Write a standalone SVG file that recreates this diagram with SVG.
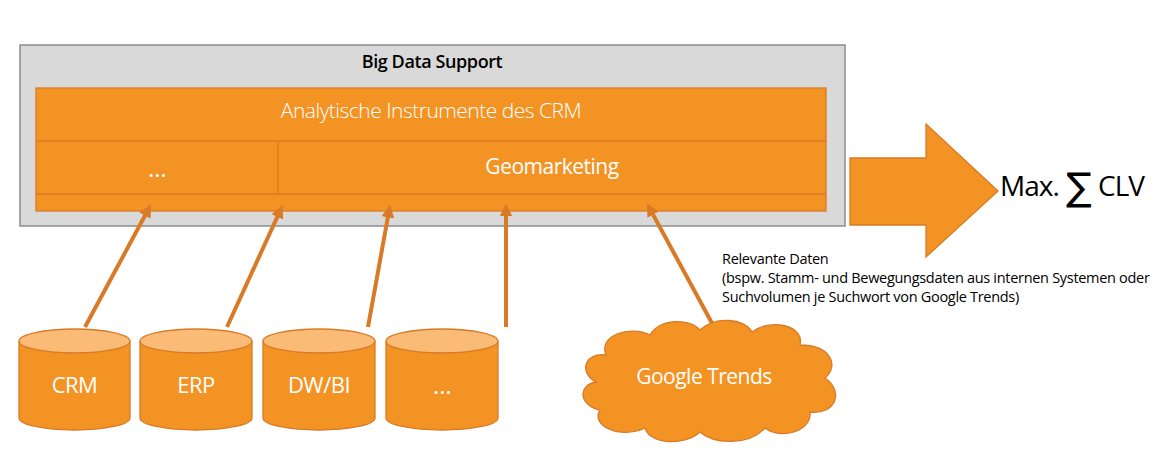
<svg xmlns="http://www.w3.org/2000/svg" width="1174" height="461" viewBox="0 0 1174 461">
<style>
.o{fill:#f39324;stroke:#d97a26;stroke-width:1.3}
.t{fill:#fff;font-family:"Open Sans","Liberation Sans",sans-serif;text-anchor:middle;letter-spacing:-0.5px}
.c{stroke:#d97a26;stroke-width:4;fill:none;marker-end:url(#ah)}
</style>
<defs>
<marker id="ah" viewBox="0 0 10 10" refX="5" refY="5" markerWidth="3.2" markerHeight="3.2" orient="auto"><path d="M0,0L10,5L0,10z" fill="#d97a26"/></marker>
</defs>
<rect width="1174" height="461" fill="#fff"/>
<g id="bigdata">
<rect x="20" y="45" width="825" height="181" fill="#d9d9d9" stroke="#8c8c8c" stroke-width="1.5"/>
<text x="432" y="68" font-family="'Open Sans','Liberation Sans',sans-serif" font-size="18" font-weight="600" text-anchor="middle" fill="#000" letter-spacing="-0.4">Big Data Support</text>
<rect class="o" x="36" y="88" width="790" height="123"/>
<line x1="36" y1="141" x2="826" y2="141" stroke="#d97a26" stroke-width="1.3"/>
<line x1="36" y1="194" x2="826" y2="194" stroke="#d97a26" stroke-width="1.3"/>
<line x1="278" y1="141" x2="278" y2="194" stroke="#d97a26" stroke-width="1.3"/>
<text class="t" x="431" y="118" font-size="21" font-weight="300">Analytische Instrumente des CRM</text>
<text class="t" x="157" y="177" font-size="24">…</text>
<text class="t" x="552" y="174" font-size="21">Geomarketing</text>
</g>
<g id="connectors">
<line class="c" x1="85" y1="327" x2="148" y2="210"/>
<line class="c" x1="227" y1="327" x2="280" y2="211"/>
<line class="c" x1="368" y1="327" x2="389" y2="211"/>
<line class="c" x1="506" y1="327" x2="506" y2="210"/>
<line class="c" x1="713" y1="325" x2="650" y2="209"/>
</g>
<g id="db-crm">
<path class="o" d="M19,341V418A55.5,12 0 0 0 130,418V341"/>
<ellipse cx="74.5" cy="341" rx="55.5" ry="12" fill="#f9bb76" stroke="#d97a26" stroke-width="1.3"/>
<text class="t" x="74.5" y="393" font-size="22">CRM</text>
</g>
<g id="db-erp">
<path class="o" d="M140,341V418A56,12 0 0 0 252,418V341"/>
<ellipse cx="196" cy="341" rx="56" ry="12" fill="#f9bb76" stroke="#d97a26" stroke-width="1.3"/>
<text class="t" x="196" y="393" font-size="22">ERP</text>
</g>
<g id="db-dwbi">
<path class="o" d="M263,341V418A56,12 0 0 0 375,418V341"/>
<ellipse cx="319" cy="341" rx="56" ry="12" fill="#f9bb76" stroke="#d97a26" stroke-width="1.3"/>
<text class="t" x="319" y="393" font-size="22">DW/BI</text>
</g>
<g id="db-more">
<path class="o" d="M386,341V418A56,12 0 0 0 498,418V341"/>
<ellipse cx="442" cy="341" rx="56" ry="12" fill="#f9bb76" stroke="#d97a26" stroke-width="1.3"/>
<text class="t" x="442" y="394" font-size="24">…</text>
</g>
<g id="google">
<path class="o" d="M606,355C598,335 630,325 650,335C660,318 690,318 700,330C715,316 745,318 752,332C770,318 805,325 800,345C830,345 840,365 825,378C845,392 835,415 810,412C812,432 780,440 765,428C750,445 715,445 700,432C685,446 650,445 645,428C620,440 590,425 600,410C578,405 578,385 596,382C578,372 585,352 606,355Z"/>
<text class="t" x="704" y="384" font-size="21">Google Trends</text>
</g>
<g id="label" font-family="'Open Sans','Liberation Sans',sans-serif" font-size="14.5" fill="#000" letter-spacing="-0.3">
<text x="722" y="264">Relevante Daten</text>
<text x="722" y="283">(bspw. Stamm- und Bewegungsdaten aus internen Systemen oder</text>
<text x="722" y="302">Suchvolumen je Suchwort von Google Trends)</text>
</g>
<g id="result">
<path class="o" d="M850,158H926V124L998,191L926,257V225H850Z"/>
<text x="1000" y="196" font-family="'Open Sans','Liberation Sans',sans-serif" font-size="28" fill="#000" letter-spacing="-1">Max.</text>
<text x="1066" y="200" font-family="'DejaVu Sans',sans-serif" font-size="38" fill="#000">∑</text>
<text x="1098" y="196" font-family="'Open Sans','Liberation Sans',sans-serif" font-size="28" fill="#000" letter-spacing="-1">CLV</text>
</g>
</svg>
